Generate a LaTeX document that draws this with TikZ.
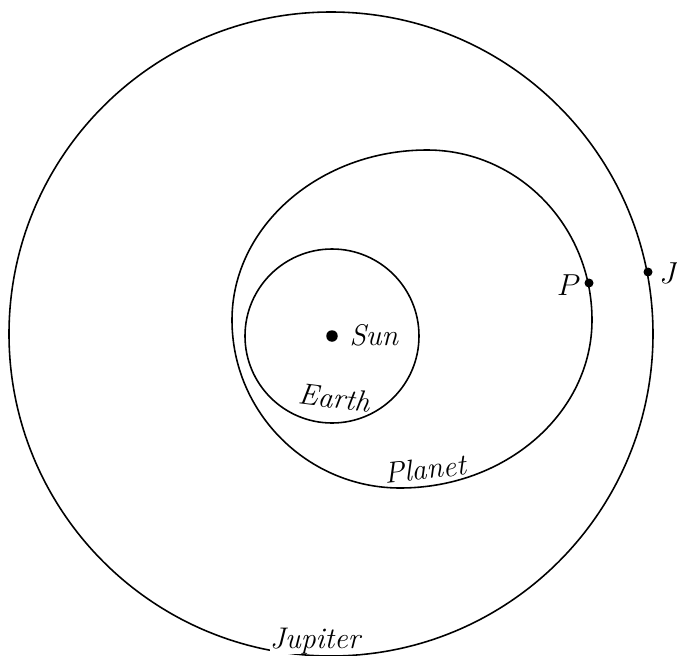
\documentclass[tikz,border=0pt]{standalone}
\begin{document}
\begin{tikzpicture}[x=0.02cm, y=-0.02cm, line width=0.9pt,
    lbl/.style={font=\fontsize{17}{20}\selectfont\itshape, inner sep=1pt},
    dot/.style={circle, fill, inner sep=0pt, minimum size=0.18cm}]
    \useasboundingbox (0,0) rectangle (677,656);

    % orbits
    \draw (331,334) circle (322);
    \draw (332,336) circle (87);
    \draw (427,150) .. controls (518,150) and (592,226) .. (592,320)
        .. controls (592,413) and (506,488) .. (400,488)
        .. controls (308,488) and (232,413) .. (232,320)
        .. controls (232,226) and (320,150) .. (427,150) -- cycle;

    % bodies
    \node[dot, minimum size=0.23cm] (sun) at (332,336) {};
    \node[dot] (p) at (589,283) {};
    \node[dot] (j) at (648,272) {};

    \node[lbl, anchor=base west] (sunlbl) at (347,345) {Sun};
    \node[lbl, anchor=base east] (plbl) at (583,295) {$P$};
    \node[lbl, anchor=base west] (jlbl) at (657,283) {$J$};
    \node[lbl, anchor=base, rotate=-7] (earthlbl) at (333,408) {Earth};
    \node[lbl, anchor=base, rotate=6] (planetlbl) at (426,479) {Planet};
    \node[lbl, anchor=base, fill=white, inner sep=0pt] (jupiterlbl) at (315,648) {Jupiter};
\end{tikzpicture}
\end{document}
